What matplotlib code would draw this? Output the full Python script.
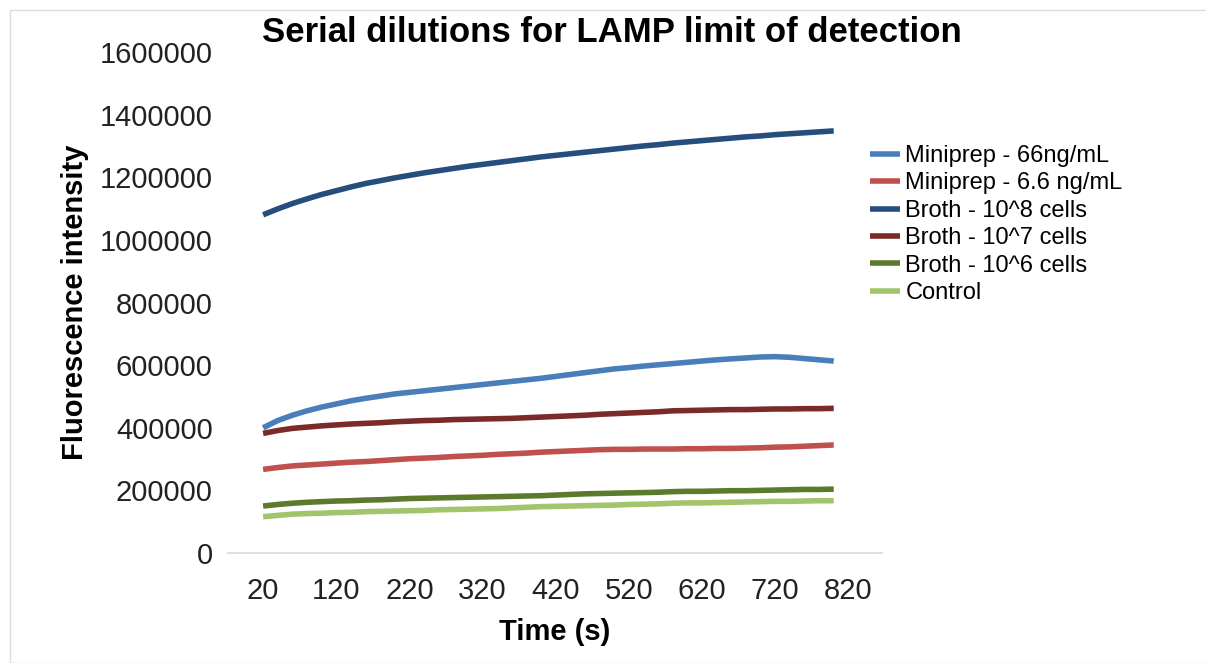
import matplotlib
matplotlib.use('Agg')
import matplotlib.pyplot as plt
import numpy as np

plt.rcParams['font.family'] = ['Liberation Sans', 'DejaVu Sans']

# time points (s), one reading every 20 s
time_s = list(range(20, 801, 20))

# fluorescence readings
mini_66 = [400000, 423000, 440000, 454000, 466000, 476000, 486000, 494000, 501000, 508000,
           513000, 518000, 523000, 528000, 533000, 538000, 543000, 548000, 553000, 558000,
           564000, 570000, 576000, 582000, 588000, 592000, 597000, 601000, 605000, 609000,
           613000, 617000, 620000, 623000, 626000, 627000, 625000, 621000, 617000, 613000]
mini_6_6 = [267000, 273000, 278000, 281000, 284000, 287000, 290000, 292000, 295000, 298000,
            301000, 303000, 305000, 308000, 310000, 312000, 315000, 317000, 319000, 322000,
            324000, 326000, 328000, 330000, 331000, 331000, 332000, 332000, 332000, 333000,
            333000, 334000, 334000, 335000, 336000, 338000, 339000, 341000, 343000, 345000]
broth_e8 = [1080000, 1099000, 1116000, 1131000, 1145000, 1157000, 1169000, 1180000, 1189000, 1198000,
            1206000, 1214000, 1221000, 1228000, 1235000, 1241000, 1247000, 1253000, 1259000, 1265000,
            1270000, 1275000, 1280000, 1285000, 1290000, 1295000, 1300000, 1304000, 1309000, 1313000,
            1317000, 1321000, 1325000, 1329000, 1332000, 1336000, 1339000, 1342000, 1345000, 1348000]
broth_e7 = [382000, 391000, 398000, 402000, 406000, 409000, 412000, 414000, 416000, 419000,
            421000, 423000, 424000, 426000, 427000, 428000, 429000, 430000, 432000, 434000,
            436000, 438000, 440000, 443000, 445000, 447000, 449000, 451000, 454000, 455000,
            456000, 457000, 458000, 458000, 459000, 460000, 460000, 461000, 461000, 462000]
broth_e6 = [150000, 155000, 159000, 162000, 164000, 166000, 167000, 169000, 170000, 172000,
            174000, 175000, 176000, 177000, 178000, 179000, 180000, 181000, 182000, 183000,
            185000, 187000, 189000, 190000, 191000, 192000, 193000, 194000, 196000, 197000,
            197000, 198000, 199000, 199000, 200000, 201000, 202000, 203000, 203000, 204000]
control = [116000, 120000, 124000, 126000, 127000, 129000, 130000, 132000, 133000, 134000,
           135000, 136000, 138000, 139000, 140000, 141000, 142000, 144000, 146000, 148000,
           149000, 150000, 151000, 152000, 153000, 155000, 156000, 157000, 159000, 160000,
           160000, 161000, 162000, 163000, 164000, 165000, 165000, 166000, 167000, 167000]

labels = ['Miniprep - 66ng/mL', 'Miniprep - 6.6 ng/mL', 'Broth - 10^8 cells',
          'Broth - 10^7 cells', 'Broth - 10^6 cells', 'Control']
series = [mini_66, mini_6_6, broth_e8, broth_e7, broth_e6, control]
colors = ['#4A7EBB', '#C0504D', '#254E7C', '#7A2A29', '#5B7A2C', '#A2C46A']

x_ticks = [20, 120, 220, 320, 420, 520, 620, 720, 820]
y_ticks = [0, 200000, 400000, 600000, 800000, 1000000, 1200000, 1400000, 1600000]

fig = plt.figure(figsize=(12.06, 6.63), dpi=100)
ax = fig.add_axes([228/1206, 1 - 553/663, (882-228)/1206, (553-52)/663])

for vals, lab, col in zip(series, labels, colors):
    ax.plot(time_s, vals, color=col, lw=4, label=lab, solid_capstyle='butt')

ax.set_xlim(-28, 866)
ax.set_ylim(0, 1600000)
ax.set_xticks(x_ticks)
ax.set_yticks(y_ticks)
ax.set_yticklabels([str(v) for v in y_ticks])
ax.tick_params(length=0, labelsize=21, colors='#222222')
ax.tick_params(axis='x', pad=17)
ax.tick_params(axis='y', pad=11)
for s in ['top', 'right', 'left']:
    ax.spines[s].set_visible(False)
ax.spines['bottom'].set_color('#D9D9D9')
ax.spines['bottom'].set_linewidth(1.2)

ax.set_xlabel('Time (s)', fontsize=21, fontweight='bold', labelpad=10)
ax.set_ylabel('Fluorescence intensity', fontsize=21, fontweight='bold', labelpad=8)
fig.text(612/1206, 1 - 33/663, 'Serial dilutions for LAMP limit of detection',
         fontsize=25, fontweight='bold', ha='center', va='center')

ax.legend(loc='upper left', bbox_to_anchor=(870/1206, 1 - 145/663), bbox_transform=fig.transFigure,
          frameon=False, fontsize=17, handlelength=1.25, handletextpad=0.25, labelspacing=0.23,
          borderaxespad=0, borderpad=0)

# thin grey frame around the chart
fig.patches.append(plt.Rectangle((10/1206, 0), 1.0, 1 - 10/663, transform=fig.transFigure,
                                 fill=False, edgecolor='#DDDDDD', lw=1))

fig.savefig('out.png', dpi=100)
